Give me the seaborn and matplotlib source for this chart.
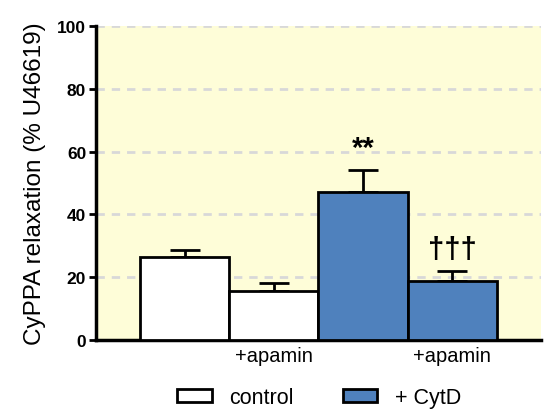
import matplotlib
matplotlib.use("Agg")
import matplotlib.pyplot as plt
import seaborn as sns
import pandas as pd
from matplotlib.patches import Patch

conditions = ["control", "control+apamin", "CytD", "CytD+apamin"]
groups = ["control", "control", "+ CytD", "+ CytD"]
means = [26.5, 15.5, 47.0, 18.7]
sems = [2.2, 2.8, 7.1, 3.2]
tick_labels = ["", "+apamin", "", "+apamin"]
annotations = ["", "", "**", "†††"]
yticks = [0, 20, 40, 60, 80, 100]

df = pd.DataFrame({"condition": conditions, "group": groups, "value": means})

sns.set_theme(style="white", rc={"text.color": "black", "axes.labelcolor": "black",
                                 "xtick.color": "black", "ytick.color": "black"})
plt.rcParams["font.family"] = ["Liberation Sans", "DejaVu Sans"]

fig = plt.figure(figsize=(5.51, 4.14), dpi=100)
ax = fig.add_axes([0.174, 0.176, 0.808, 0.759])
ax.set_facecolor("#FEFDD8")

palette = {"control": "#FFFFFF", "+ CytD": "#4F81BD"}
sns.barplot(data=df, x="condition", y="value", hue="group", palette=palette,
            dodge=False, width=1.0, edgecolor="black", linewidth=2, saturation=1,
            errorbar=None, ax=ax, legend=False, zorder=3)

for i, (m, s) in enumerate(zip(means, sems)):
    ax.errorbar(i, m, yerr=[[0], [s]], fmt="none", ecolor="black",
                elinewidth=2, capsize=11, capthick=2, zorder=2)

for i, (m, s, a) in enumerate(zip(means, sems, annotations)):
    if a:
        ax.text(i, m + s + 2.5, a, ha="center", va="bottom", fontsize=21,
                fontweight="bold", color="black")

ax.set_ylim(0, 100)
ax.set_xlim(-1.0, 4.0)
ax.set_yticks(yticks)
ax.set_yticklabels([str(t) for t in yticks], fontsize=12.5, fontweight="bold")
ax.set_xticks(range(len(conditions)))
ax.set_xticklabels(tick_labels, fontsize=14.5)
ax.tick_params(axis="x", length=0, pad=4)
ax.tick_params(axis="y", length=5, width=2, direction="out", pad=2, left=True)
ax.set_xlabel("")
ax.set_ylabel("CyPPA relaxation (% U46619)", fontsize=17.5, labelpad=8)

for y in yticks[1:]:
    ax.axhline(y, color="#D8D8D8", linestyle=(0, (3, 2.5)), linewidth=2, zorder=1)

for sp in ["top", "right"]:
    ax.spines[sp].set_visible(False)
for sp in ["left", "bottom"]:
    ax.spines[sp].set_linewidth(2.5)
    ax.spines[sp].set_color("black")

handles = [Patch(facecolor="#FFFFFF", edgecolor="black", linewidth=2, label="control"),
           Patch(facecolor="#4F81BD", edgecolor="black", linewidth=2, label="+ CytD")]
fig.legend(handles=handles, loc="lower center", bbox_to_anchor=(0.579, -0.035), ncol=2,
           frameon=False, fontsize=15.5, handlelength=1.6, handleheight=0.6,
           columnspacing=2.3, handletextpad=0.8)

fig.savefig("out.png", dpi=100)
